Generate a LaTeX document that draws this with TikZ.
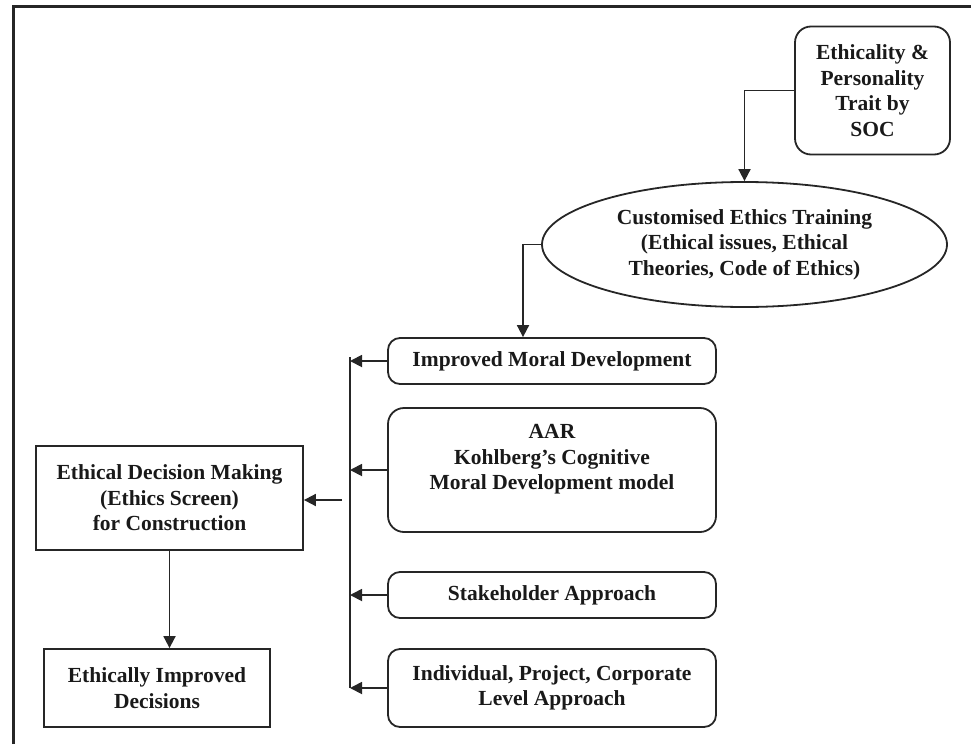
\documentclass[tikz,border=0pt]{standalone}
\usepackage{fontspec}
\setmainfont{Liberation Serif}
\usetikzlibrary{shapes.geometric,arrows.meta}
\begin{document}
\begin{tikzpicture}[x=1pt,y=-1pt,
  txt/.style={font=\bfseries\fontsize{21.5}{25.5}\selectfont, align=center, inner sep=0pt, text=black!90},
  rbox/.style={txt, draw=black!85, line width=1.8pt, rounded corners=12pt},
  sbox/.style={txt, draw=black!85, line width=1.8pt},
  oval/.style={txt, draw=black!85, line width=1.8pt, ellipse},
  flow/.style={draw=black!85, line width=1.8pt, -{Triangle[length=12pt,width=12pt]}},
  wire/.style={draw=black!85, line width=1.8pt}]
\useasboundingbox (0,0) rectangle (971,744);
% open frame along the top and left
\draw[line width=3pt, draw=black!85] (13,744) -- (13,6) -- (971,6);

% source and training
\node[rbox, rounded corners=16pt, minimum width=155pt, minimum height=128pt] (soc) at (872.5,90.5)
  {Ethicality \&\\Personality\\Trait by\\SOC};
\node[oval, minimum width=405pt, minimum height=125pt] (ell) at (744.5,244.5)
  {Customised Ethics Training\\(Ethical issues, Ethical\\Theories, Code of Ethics)};

% contributing approaches
\node[rbox, minimum width=328pt, minimum height=46pt] (imd) at (552,361)
  {Improved Moral Development};
\node[rbox, rounded corners=16pt, minimum width=328pt, minimum height=124pt] (aar) at (552,470)
  {AAR\\Kohlberg’s Cognitive\\Moral Development model\\\mbox{}};
\node[rbox, minimum width=328pt, minimum height=46pt] (stk) at (552,595)
  {Stakeholder Approach};
\node[rbox, minimum width=328pt, minimum height=78pt] (ind) at (552,688)
  {Individual, Project, Corporate\\Level Approach};

% decision making
\node[sbox, minimum width=267pt, minimum height=104pt] (edm) at (169.5,498)
  {Ethical Decision Making\\(Ethics Screen)\\for Construction};
\node[sbox, minimum width=226pt, minimum height=78pt] (eid) at (157,688)
  {Ethically Improved\\Decisions};

% bus collecting the approaches
\coordinate (bt) at (350,357);
\coordinate (bb) at (350,688);
\coordinate (bo) at (342,500);

\draw[flow] (soc.west) -| (ell.north);
\draw[flow] (ell.west) -| ([xshift=-29pt]imd.north);
\draw[wire] (bt) -- (bb);
\draw[flow] (imd.west) -- (imd.west -| bt);
\draw[flow] (aar.west) -- (aar.west -| bt);
\draw[flow] (stk.west) -- (stk.west -| bt);
\draw[flow] (ind.west) -- (ind.west -| bt);
\draw[flow] (bo) -- (edm.east |- bo);
\draw[flow] (edm.south) -- (eid.north -| edm.south);
\end{tikzpicture}
\end{document}
